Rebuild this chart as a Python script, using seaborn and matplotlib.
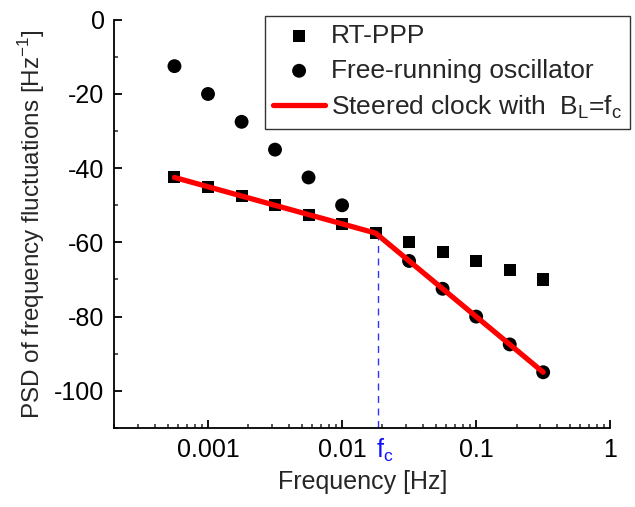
import numpy as np
import pandas as pd
import seaborn as sns
import matplotlib.pyplot as plt
from matplotlib.ticker import LogLocator, MultipleLocator, FixedLocator, FixedFormatter

sns.set_style("ticks")
plt.rcParams['font.family'] = ['Liberation Sans', 'DejaVu Sans']
plt.rcParams['mathtext.fontset'] = 'custom'
plt.rcParams['mathtext.rm'] = 'Liberation Sans'
plt.rcParams['axes.unicode_minus'] = False

# frequencies [Hz]
freq = [0.000562, 0.001, 0.00178, 0.00316, 0.00562, 0.01, 0.0178,
        0.0316, 0.0562, 0.1, 0.178, 0.316]
rt_ppp = [-42.5, -45, -47.5, -50, -52.5, -55, -57.5,
          -60, -62.5, -65, -67.5, -70]
free_freq = [0.000562, 0.001, 0.00178, 0.00316, 0.00562, 0.01,
             0.0316, 0.0562, 0.1, 0.178, 0.316]
free_run = [-12.5, -20, -27.5, -35, -42.5, -50,
            -65, -72.5, -80, -87.5, -95]
steered = [-42.5, -45, -47.5, -50, -52.5, -55, -57.5,
           -65, -72.5, -80, -87.5, -95]
fc = 0.0185
fc_psd = -57.5

df_rt = pd.DataFrame({"f": freq, "psd": rt_ppp})
df_free = pd.DataFrame({"f": free_freq, "psd": free_run})
df_st = pd.DataFrame({"f": freq, "psd": steered})

fig = plt.figure(figsize=(6.35, 5.07), dpi=100)
ax = fig.add_axes([0.18, 0.156, 0.781, 0.805])

sns.scatterplot(data=df_rt, x="f", y="psd", marker="s", s=75, color="black",
                edgecolor="none", ax=ax, label="RT-PPP", zorder=2)
sns.scatterplot(data=df_free, x="f", y="psd", marker="o", s=100, color="black",
                edgecolor="none", ax=ax, label="Free-running oscillator", zorder=2)
sns.lineplot(data=df_st, x="f", y="psd", color="red", linewidth=3.8, ax=ax,
             label=r"Steered clock with  B$_\mathregular{L}$=f$_\mathregular{c}$",
             zorder=3)

ax.set_xscale("log")
ax.set_xlim(0.0002, 1)
ax.set_ylim(-110, 0)

ax.plot([fc, fc], [fc_psd, -110], color="#3030ff", linestyle=(0, (5, 4)),
        linewidth=1.0, zorder=2.5)
ax.text(fc * 0.97, -112.5, r"f$_\mathregular{c}$", color="#1010ff", fontsize=18,
        ha="left", va="top")

sns.despine(ax=ax)
for sp in ["left", "bottom"]:
    ax.spines[sp].set_linewidth(1.3)
    ax.spines[sp].set_color("black")

ax.xaxis.set_major_locator(FixedLocator([0.001, 0.01, 0.1, 1]))
ax.xaxis.set_major_formatter(FixedFormatter(["0.001", "0.01", "0.1", "1"]))
ax.xaxis.set_minor_locator(LogLocator(base=10, subs=np.arange(2, 10)))
ax.xaxis.set_minor_formatter(plt.NullFormatter())
ax.yaxis.set_major_locator(MultipleLocator(20))
ax.yaxis.set_minor_locator(MultipleLocator(10))

ax.tick_params(which="major", direction="in", length=6, width=1.3,
               labelsize=18, colors="black", pad=7)
ax.tick_params(which="minor", direction="in", length=3, width=1.1)

ax.set_xlabel("Frequency [Hz]", fontsize=18, labelpad=6)
ax.set_ylabel(r"PSD of frequency fluctuations [Hz$^\mathregular{-1}$]",
              fontsize=17.5, labelpad=5)

leg = ax.legend(loc="upper left", bbox_to_anchor=(0.417, 0.968),
                bbox_transform=fig.transFigure, fontsize=19, frameon=True,
                fancybox=False, edgecolor="black", borderpad=0.3,
                labelspacing=0.4, handlelength=2.0, handletextpad=0.2,
                borderaxespad=0)
leg.get_frame().set_linewidth(1.0)

fig.savefig("out.png", dpi=100)
